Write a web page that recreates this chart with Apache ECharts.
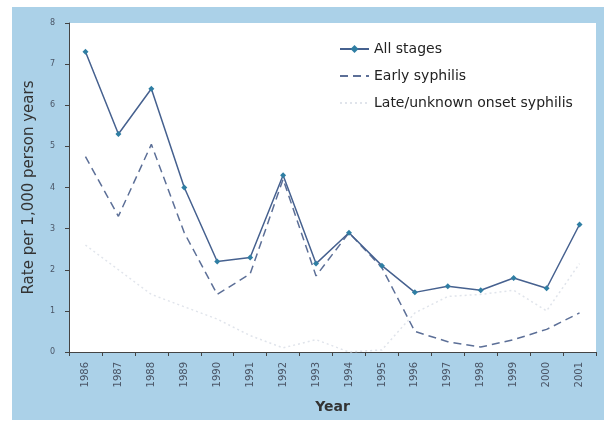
<!DOCTYPE html>
<html>
<head>
<meta charset="UTF-8" />
<title>Syphilis rates</title>
<script src="https://cdn.jsdelivr.net/npm/echarts@6/dist/echarts.min.js"></script>
<style>
  html, body { margin: 0; padding: 0; background: #fff; }
  #chart { width: 611px; height: 423px; }
</style>
</head>
<body>
<div id="chart"></div>
<script>
// data
var years = ['1986', '1987', '1988', '1989', '1990', '1991', '1992', '1993',
             '1994', '1995', '1996', '1997', '1998', '1999', '2000', '2001'];
var allStages = [7.3, 5.3, 6.4, 4.0, 2.2, 2.3, 4.3, 2.15, 2.9, 2.1, 1.45, 1.6, 1.5, 1.8, 1.55, 3.1];
var earlySyph = [4.75, 3.3, 5.05, 2.9, 1.4, 1.9, 4.2, 1.85, 2.9, 2.05, 0.5, 0.25, 0.12, 0.3, 0.55, 0.95];
var lateSyph = [2.6, 2.0, 1.4, 1.1, 0.8, 0.4, 0.1, 0.3, 0.0, 0.05, 0.95, 1.35, 1.4, 1.5, 1.0, 2.15];

var myChart = echarts.init(document.getElementById('chart'));

myChart.setOption({
    backgroundColor: '#fff',
    animation: false,
    graphic: [{
        type: 'rect',
        z: -10,
        shape: { x: 12, y: 7, width: 592, height: 413 },
        style: { fill: '#abd1e8' }
    }],
    grid: {
        left: 69, right: 15, top: 23, bottom: 71,
        show: true,
        backgroundColor: '#fff',
        borderWidth: 0
    },
    legend: {
        orient: 'vertical',
        left: 334,
        top: 37,
        itemWidth: 29,
        itemHeight: 10,
        itemGap: 13,
        textStyle: { fontFamily: 'DejaVu Sans', fontSize: 14, color: '#222' },
        data: [
            { name: 'All stages' },
            { name: 'Early syphilis', itemStyle: { opacity: 0 } },
            { name: 'Late/unknown onset syphilis', itemStyle: { opacity: 0 } }
        ]
    },
    xAxis: {
        type: 'category',
        data: years,
        boundaryGap: true,
        name: 'Year',
        nameLocation: 'middle',
        nameGap: 48,
        nameTextStyle: { fontFamily: 'DejaVu Sans', fontSize: 14, fontWeight: 'bold', color: '#333' },
        axisLine: { lineStyle: { color: '#444', width: 1 } },
        axisTick: { show: true, length: 4, lineStyle: { color: '#444' } },
        axisLabel: { rotate: 90, fontSize: 10, color: '#4a5566', margin: 10, fontFamily: 'DejaVu Sans' },
        splitLine: { show: false }
    },
    yAxis: {
        type: 'value',
        min: 0, max: 8, interval: 1,
        name: 'Rate per 1,000 person years',
        nameLocation: 'middle',
        nameGap: 32,
        nameTextStyle: { fontFamily: 'DejaVu Sans', fontSize: 15, color: '#333' },
        axisLine: { show: true, lineStyle: { color: '#444', width: 1 } },
        axisTick: { show: true, length: 4, lineStyle: { color: '#444' } },
        axisLabel: { fontSize: 8, color: '#4a5566', margin: 14, fontFamily: 'DejaVu Sans' },
        splitLine: { show: false }
    },
    series: [{
        name: 'All stages',
        type: 'line',
        data: allStages,
        symbol: 'diamond',
        symbolSize: 6,
        lineStyle: { color: '#46618f', width: 1.5 },
        itemStyle: { color: '#2f7ea3' },
        z: 3
    }, {
        name: 'Early syphilis',
        type: 'line',
        data: earlySyph,
        symbol: 'none',
        lineStyle: { color: '#5c6f97', width: 1.5, type: [8, 5] },
        itemStyle: { color: '#5c6f97' },
        z: 2
    }, {
        name: 'Late/unknown onset syphilis',
        type: 'line',
        data: lateSyph,
        symbol: 'none',
        lineStyle: { color: '#e0e4eb', width: 1.5, type: [2, 3] },
        itemStyle: { color: '#e0e4eb' },
        z: 1
    }]
});
</script>
</body>
</html>
